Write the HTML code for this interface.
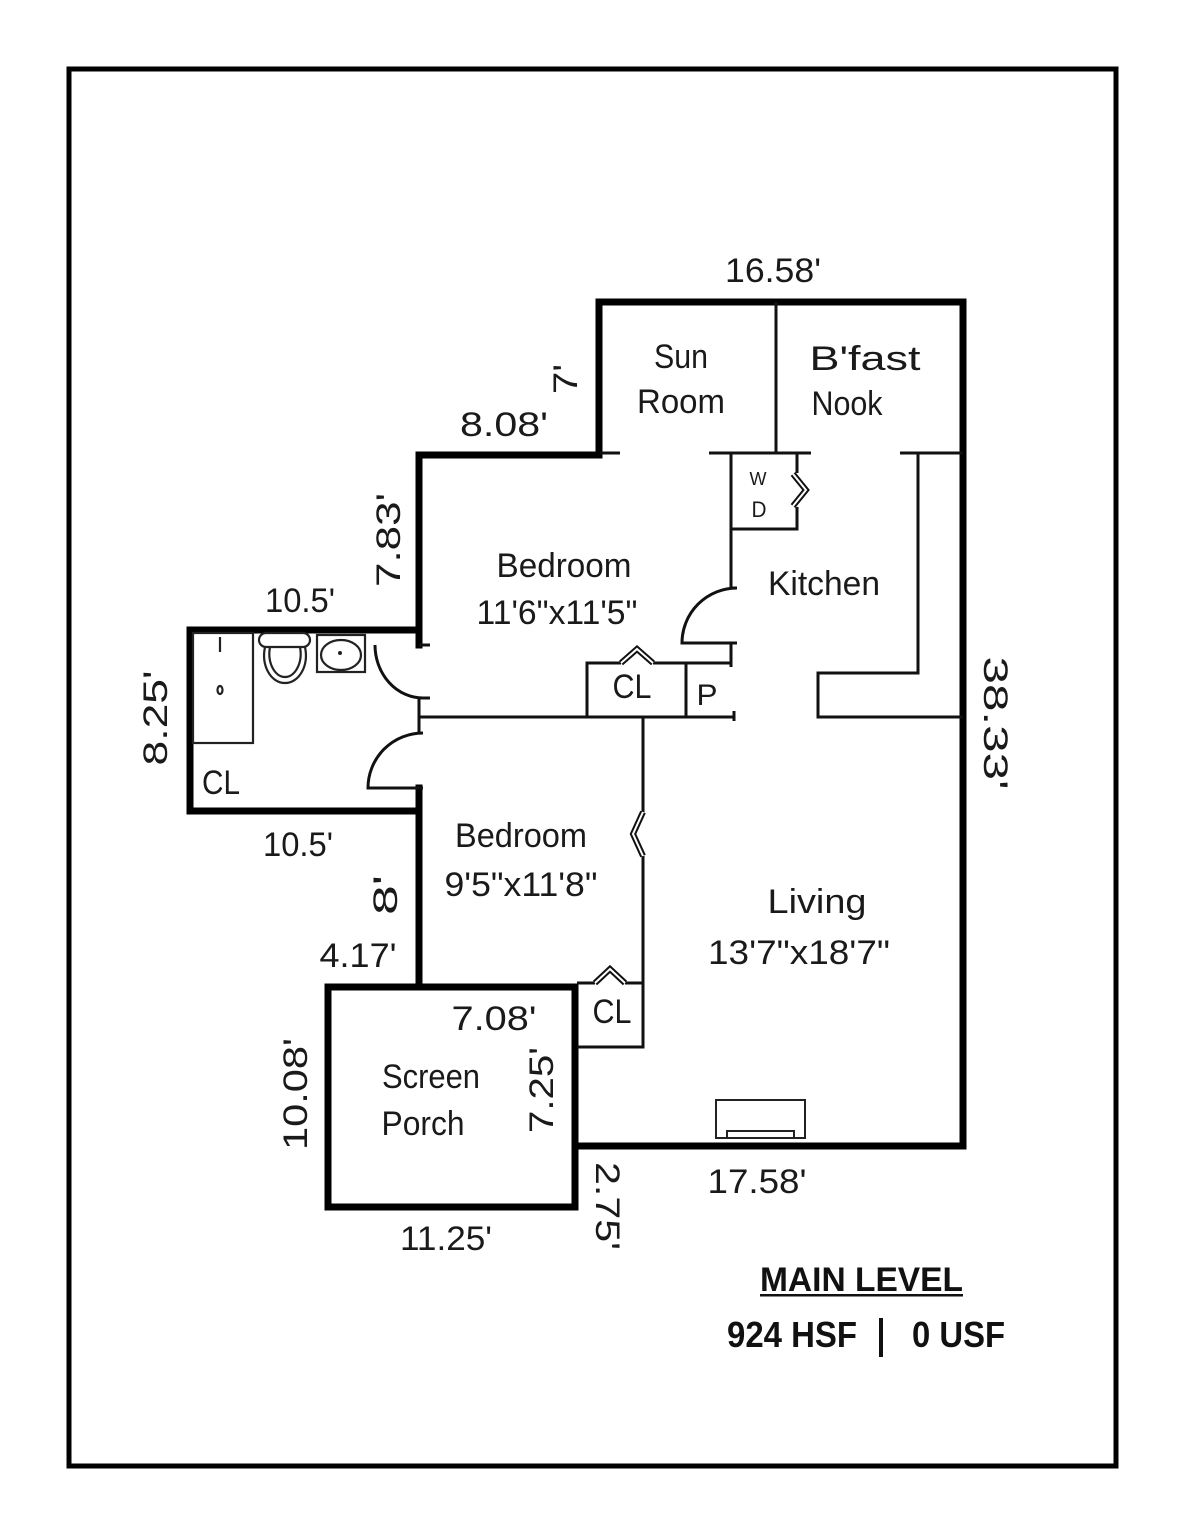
<!DOCTYPE html>
<html>
<head>
<meta charset="utf-8">
<style>
  html, body { margin:0; padding:0; background:#fff; }
  svg { display:block; }
  .h { font-family:"Liberation Sans", sans-serif; font-size:34px; fill:#1a1a1a; }
  .b { font-family:"Liberation Sans", sans-serif; font-weight:bold; fill:#111; }
</style>
</head>
<body>
<svg width="1186" height="1536" viewBox="0 0 1186 1536" xmlns="http://www.w3.org/2000/svg">
  <rect x="0" y="0" width="1186" height="1536" fill="#fff"/>
  <!-- outer frame -->
  <rect x="69" y="69" width="1047" height="1397" fill="none" stroke="#000" stroke-width="5"/>

  <!-- thick exterior walls -->
  <g fill="none" stroke="#000" stroke-width="7" stroke-linecap="square" stroke-linejoin="miter">
    <path d="M599 455 V302 H963 V1146 H575"/>
    <path d="M575 987 V1207 H328 V987 Z"/>
    <path d="M419 987 V788"/>
    <path d="M419 645 V455 H599"/>
    <path d="M419 630 H190 V811 H419"/>
  </g>

  <!-- thin interior walls -->
  <g fill="none" stroke="#111" stroke-width="3" stroke-linecap="butt">
    <path d="M419 698 V733"/>
    <!-- bath doors -->
    <path d="M375 645 A48 53 0 0 0 423 698"/>
    <path d="M419 645 H430 M419 698 H430"/>
    <path d="M423 733 A55 55 0 0 0 368 788 H423"/>
    <!-- kitchen door -->
    <path d="M731 588 H737 A55 55 0 0 0 682 643 H737"/>
    <!-- top partitions -->
    <path d="M776 302 V453"/>
    <path d="M600 453 H620"/>
    <path d="M709 453 H811"/>
    <path d="M900 453 H963"/>
    <!-- W/D closet -->
    <path d="M731 453 V588"/>
    <path d="M731 529 H797 V507"/>
    <path d="M797 453 V473"/>
    <path d="M731 643 V667"/>
    <!-- CL / P -->
    <path d="M587 716 V663 H621"/>
    <path d="M653 663 H731"/>
    <path d="M686 663 V716"/>
    <path d="M419 717 H735"/>
    <path d="M734 711 V721"/>
    <!-- kitchen counter -->
    <path d="M918 453 V673 H818 V717 H963"/>
    <!-- bedroom2 / living divider -->
    <path d="M643 717 V812"/>
    <path d="M643 856 V1047 H577"/>
    <path d="M577 983 H595"/>
    <path d="M625 983 H643"/>
  </g>

  <!-- bifold chevrons (double lines) -->
  <g fill="none" stroke-linejoin="miter">
    <g stroke="#111" stroke-width="6">
      <polyline points="793,474 806,490 793,506"/>
      <polyline points="643,812 633,834 643,856"/>
      <polyline points="621,663 637,649 653,663"/>
      <polyline points="595,983 610,969 625,983"/>
    </g>
    <g stroke="#fff" stroke-width="2">
      <polyline points="793,474 806,490 793,506"/>
      <polyline points="643,812 633,834 643,856"/>
      <polyline points="621,663 637,649 653,663"/>
      <polyline points="595,983 610,969 625,983"/>
    </g>
  </g>

  <!-- bath fixtures -->
  <g fill="none" stroke="#222" stroke-width="2.2">
    <rect x="193" y="633" width="60" height="110"/>
    <line x1="220" y1="637" x2="220" y2="652"/>
    <ellipse cx="220" cy="690" rx="2.5" ry="4"/>
    <rect x="259" y="633" width="51" height="14" rx="7"/>
    <path d="M265 647 C261 666 271 683 285 683 C299 683 309 666 305 647"/>
    <path d="M270 647 C267 663 275 677 285 677 C295 677 303 663 300 647"/>
    <rect x="317" y="635" width="48" height="37"/>
    <ellipse cx="341" cy="655" rx="20" ry="15"/>
  </g>
  <circle cx="340" cy="653" r="2" fill="#222"/>

  <!-- fireplace -->
  <g fill="none" stroke="#222" stroke-width="2">
    <rect x="716" y="1100" width="89" height="38"/>
    <rect x="727" y="1131" width="67" height="7"/>
  </g>

  <!-- horizontal dimension labels -->
  <g class="h" text-anchor="middle">
    <text x="773" y="282" textLength="96" lengthAdjust="spacingAndGlyphs">16.58'</text>
    <text x="504" y="436" textLength="88" lengthAdjust="spacingAndGlyphs">8.08'</text>
    <text x="300" y="612" textLength="70" lengthAdjust="spacingAndGlyphs">10.5'</text>
    <text x="298" y="856" textLength="70" lengthAdjust="spacingAndGlyphs">10.5'</text>
    <text x="358" y="967" textLength="77" lengthAdjust="spacingAndGlyphs">4.17'</text>
    <text x="494" y="1030" textLength="85" lengthAdjust="spacingAndGlyphs">7.08'</text>
    <text x="446" y="1250" textLength="92" lengthAdjust="spacingAndGlyphs">11.25'</text>
    <text x="757" y="1193" textLength="99" lengthAdjust="spacingAndGlyphs">17.58'</text>
  </g>

  <!-- rotated dimension labels -->
  <g class="h" text-anchor="middle">
    <text transform="translate(565,379) rotate(-90)" x="0" y="12" textLength="30" lengthAdjust="spacingAndGlyphs">7'</text>
    <text transform="translate(388,540) rotate(-90)" x="0" y="12" textLength="94" lengthAdjust="spacingAndGlyphs">7.83'</text>
    <text transform="translate(155,718) rotate(-90)" x="0" y="12" textLength="95" lengthAdjust="spacingAndGlyphs">8.25'</text>
    <text transform="translate(385,895) rotate(-90)" x="0" y="12" textLength="40" lengthAdjust="spacingAndGlyphs">8'</text>
    <text transform="translate(295,1094) rotate(-90)" x="0" y="12" textLength="112" lengthAdjust="spacingAndGlyphs">10.08'</text>
    <text transform="translate(541,1090) rotate(-90)" x="0" y="12" textLength="86" lengthAdjust="spacingAndGlyphs">7.25'</text>
    <text transform="translate(608,1206) rotate(90)" x="0" y="12" textLength="88" lengthAdjust="spacingAndGlyphs">2.75'</text>
    <text transform="translate(996,723) rotate(90)" x="0" y="12" textLength="133" lengthAdjust="spacingAndGlyphs">38.33'</text>
  </g>

  <!-- room labels -->
  <g class="h" text-anchor="middle">
    <text x="681" y="368" textLength="54" lengthAdjust="spacingAndGlyphs">Sun</text>
    <text x="681" y="413" textLength="88" lengthAdjust="spacingAndGlyphs">Room</text>
    <text x="865" y="370" textLength="111" lengthAdjust="spacingAndGlyphs">B'fast</text>
    <text x="847" y="415" textLength="71" lengthAdjust="spacingAndGlyphs">Nook</text>
    <text x="758" y="485" style="font-size:18px" textLength="17" lengthAdjust="spacingAndGlyphs">W</text>
    <text x="759" y="517" style="font-size:22px" textLength="15" lengthAdjust="spacingAndGlyphs">D</text>
    <text x="824" y="595" textLength="112" lengthAdjust="spacingAndGlyphs">Kitchen</text>
    <text x="564" y="577" textLength="135" lengthAdjust="spacingAndGlyphs">Bedroom</text>
    <text x="557" y="624" textLength="161" lengthAdjust="spacingAndGlyphs">11'6"x11'5"</text>
    <text x="632" y="698" textLength="39" lengthAdjust="spacingAndGlyphs">CL</text>
    <text x="707" y="705" style="font-size:30px" textLength="21" lengthAdjust="spacingAndGlyphs">P</text>
    <text x="221" y="794" textLength="38" lengthAdjust="spacingAndGlyphs">CL</text>
    <text x="521" y="847" textLength="132" lengthAdjust="spacingAndGlyphs">Bedroom</text>
    <text x="521" y="896" textLength="153" lengthAdjust="spacingAndGlyphs">9'5"x11'8"</text>
    <text x="612" y="1023" textLength="39" lengthAdjust="spacingAndGlyphs">CL</text>
    <text x="431" y="1088" textLength="98" lengthAdjust="spacingAndGlyphs">Screen</text>
    <text x="423" y="1135" textLength="83" lengthAdjust="spacingAndGlyphs">Porch</text>
    <text x="817" y="913" textLength="99" lengthAdjust="spacingAndGlyphs">Living</text>
    <text x="799" y="964" textLength="182" lengthAdjust="spacingAndGlyphs">13'7"x18'7"</text>
  </g>

  <!-- title block -->
  <text class="b" x="760" y="1291" style="font-size:34px" textLength="203" lengthAdjust="spacingAndGlyphs">MAIN LEVEL</text>
  <rect x="760" y="1294" width="203" height="2.5" fill="#111"/>
  <text class="b" x="727" y="1347" style="font-size:36px" textLength="130" lengthAdjust="spacingAndGlyphs">924 HSF</text>
  <rect x="879" y="1318" width="4" height="39" fill="#111"/>
  <text class="b" x="912" y="1347" style="font-size:36px" textLength="93" lengthAdjust="spacingAndGlyphs">0 USF</text>
</svg>
</body>
</html>
